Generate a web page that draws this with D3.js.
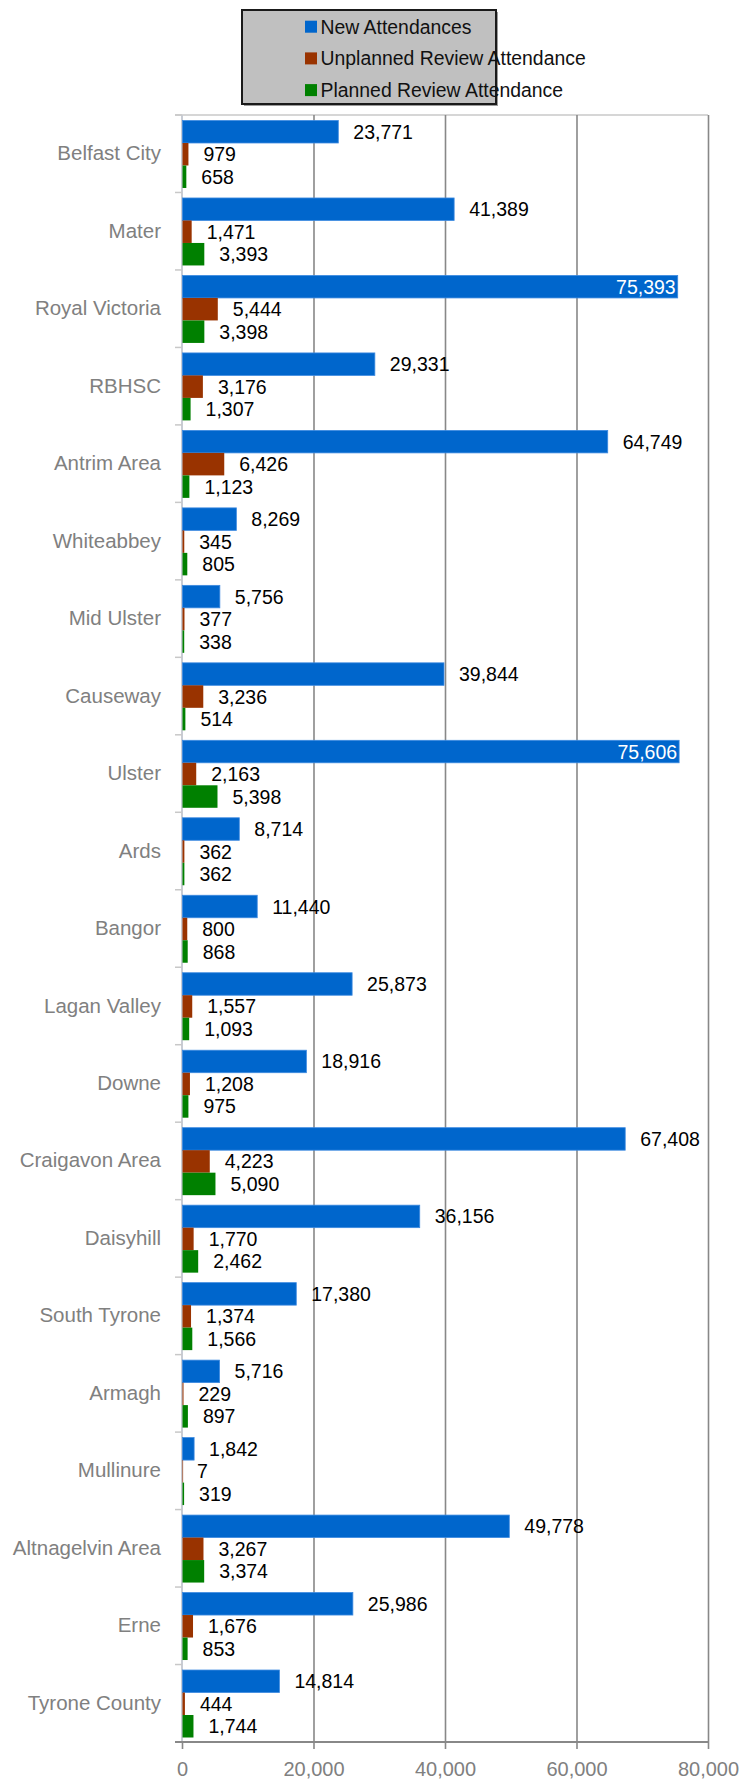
<!DOCTYPE html>
<html>
<head>
<meta charset="utf-8">
<script src="https://cdn.jsdelivr.net/npm/d3@7"></script>
<style>
  body { margin: 0; background: #fff; }
  svg { display: block; font-family: "Liberation Sans", Arial, sans-serif; }
</style>
</head>
<body>
<div id="chart"></div>
<script>
// Chart data
const hospitals = ["Belfast City", "Mater", "Royal Victoria", "RBHSC", "Antrim Area", "Whiteabbey",
  "Mid Ulster", "Causeway", "Ulster", "Ards", "Bangor", "Lagan Valley", "Downe", "Craigavon Area",
  "Daisyhill", "South Tyrone", "Armagh", "Mullinure", "Altnagelvin Area", "Erne", "Tyrone County"];
const newAttendances = [23771, 41389, 75393, 29331, 64749, 8269, 5756, 39844, 75606, 8714, 11440,
  25873, 18916, 67408, 36156, 17380, 5716, 1842, 49778, 25986, 14814];
const unplannedReview = [979, 1471, 5444, 3176, 6426, 345, 377, 3236, 2163, 362, 800,
  1557, 1208, 4223, 1770, 1374, 229, 7, 3267, 1676, 444];
const plannedReview = [658, 3393, 3398, 1307, 1123, 805, 338, 514, 5398, 362, 868,
  1093, 975, 5090, 2462, 1566, 897, 319, 3374, 853, 1744];
const seriesNames = ["New Attendances", "Unplanned Review Attendance", "Planned Review Attendance"];
const seriesColors = ["#0066cc", "#993300", "#008000"];
const xTicks = [0, 20000, 40000, 60000, 80000];

const W = 741, H = 1780;
const margin = {top: 115, right: 33, bottom: 38, left: 182};
const width = W - margin.left - margin.right;
const height = H - margin.top - margin.bottom;

const svg = d3.select("#chart").append("svg")
  .attr("width", W).attr("height", H);

const g = svg.append("g")
  .attr("transform", `translate(${margin.left},${margin.top})`);

// Scales
const x = d3.scaleLinear().domain([0, 80000]).range([0, width]);
const y = d3.scaleBand().domain(hospitals).range([0, height]);
const inner = d3.scaleBand().domain(seriesNames)
  .range([5.5, y.bandwidth() - 4.5]);

// top border of plot
g.append("line")
  .attr("x1", -7).attr("x2", width)
  .attr("y1", 0).attr("y2", 0)
  .attr("stroke", "#c8c8c8").attr("stroke-width", 1.5);

// Gridlines
const grid = g.append("g")
  .call(d3.axisBottom(x).tickValues(xTicks).tickSize(height).tickFormat(""));
grid.select(".domain").remove();
grid.selectAll("line").attr("stroke", "#888").attr("stroke-width", 1.6);
grid.selectAll(".tick").filter(d => d === 0).remove();

// left axis line
g.append("line")
  .attr("x1", 0).attr("x2", 0)
  .attr("y1", 0).attr("y2", height)
  .attr("stroke", "#c8ccd4").attr("stroke-width", 2);

// category boundary ticks
g.append("g").selectAll("line")
  .data(d3.range(hospitals.length + 1))
  .join("line")
  .attr("x1", -7).attr("x2", 0)
  .attr("y1", i => i * y.step()).attr("y2", i => i * y.step())
  .attr("stroke", "#c8c8c8").attr("stroke-width", 1.5);

// Category labels
const yAxis = g.append("g")
  .call(d3.axisLeft(y).tickSize(0).tickPadding(21));
yAxis.select(".domain").remove();
yAxis.selectAll("text")
  .style("font-size", "20.5px")
  .style("font-family", "'Liberation Sans', Arial, sans-serif")
  .attr("fill", "#808080");

// Bars
const allSeries = [newAttendances, unplannedReview, plannedReview];
const rows = hospitals.map((h, i) => ({
  name: h,
  vals: allSeries.map((s, k) => ({key: seriesNames[k], v: s[i], k: k}))
}));

const groups = g.selectAll(".grp")
  .data(rows)
  .join("g")
  .attr("class", "grp")
  .attr("transform", d => `translate(0,${y(d.name)})`);

groups.selectAll("rect")
  .data(d => d.vals)
  .join("rect")
  .attr("x", 0.5)
  .attr("y", d => inner(d.key))
  .attr("height", inner.bandwidth())
  .attr("width", d => Math.max(x(d.v) - 0.5, 0.6))
  .attr("fill", d => seriesColors[d.k])
  .attr("stroke", d => d.k === 0 ? "#3d8ae0" : "none")
  .attr("stroke-width", 0.8);

// Value labels
const fmt = d3.format(",");
groups.selectAll("text.val")
  .data(d => d.vals)
  .join("text")
  .attr("class", "val")
  .attr("y", d => inner(d.key) + inner.bandwidth() / 2)
  .attr("dy", "0.36em")
  .style("font-size", "19.5px")
  .text(d => fmt(d.v))
  .each(function(d) {
    const t = d3.select(this);
    const tw = this.getComputedTextLength();
    const end = x(d.v);
    if (margin.left + end + 15 + tw > W) {
      t.attr("x", end - 2).attr("text-anchor", "end").attr("fill", "#fff");
    } else {
      t.attr("x", end + 15).attr("text-anchor", "start").attr("fill", "#000");
    }
  });

// X axis
const xAxis = g.append("g")
  .attr("transform", `translate(0,${height})`)
  .call(d3.axisBottom(x).tickValues(xTicks).tickFormat(fmt).tickSize(7).tickPadding(13).tickSizeOuter(0));
xAxis.select(".domain").attr("stroke", "#888").attr("stroke-width", 2)
  .attr("d", `M-7,0H${width}`);
xAxis.selectAll("line").attr("stroke", "#888").attr("stroke-width", 1.6);
xAxis.selectAll("text")
  .style("font-size", "20px")
  .style("font-family", "'Liberation Sans', Arial, sans-serif")
  .attr("fill", "#808080");

// Legend
const legend = svg.append("g");
legend.append("rect")
  .attr("x", 244).attr("y", 12).attr("width", 254).attr("height", 94)
  .attr("fill", "#9a9a9a");
legend.append("rect")
  .attr("x", 242).attr("y", 10).attr("width", 254).attr("height", 94)
  .attr("fill", "#c0c0c0").attr("stroke", "#1a1a1a").attr("stroke-width", 2);

const legendRows = legend.selectAll(".lr")
  .data(seriesNames)
  .join("g")
  .attr("class", "lr")
  .attr("transform", (d, i) => `translate(305,${26.7 + i * 31.7})`);
legendRows.append("rect")
  .attr("x", 0).attr("y", -6).attr("width", 12).attr("height", 12)
  .attr("fill", (d, i) => seriesColors[i]);
legendRows.append("text")
  .attr("x", 15.5).attr("dy", "0.36em")
  .style("font-size", "19.4px")
  .attr("fill", "#111")
  .text(d => d);
</script>
</body>
</html>
